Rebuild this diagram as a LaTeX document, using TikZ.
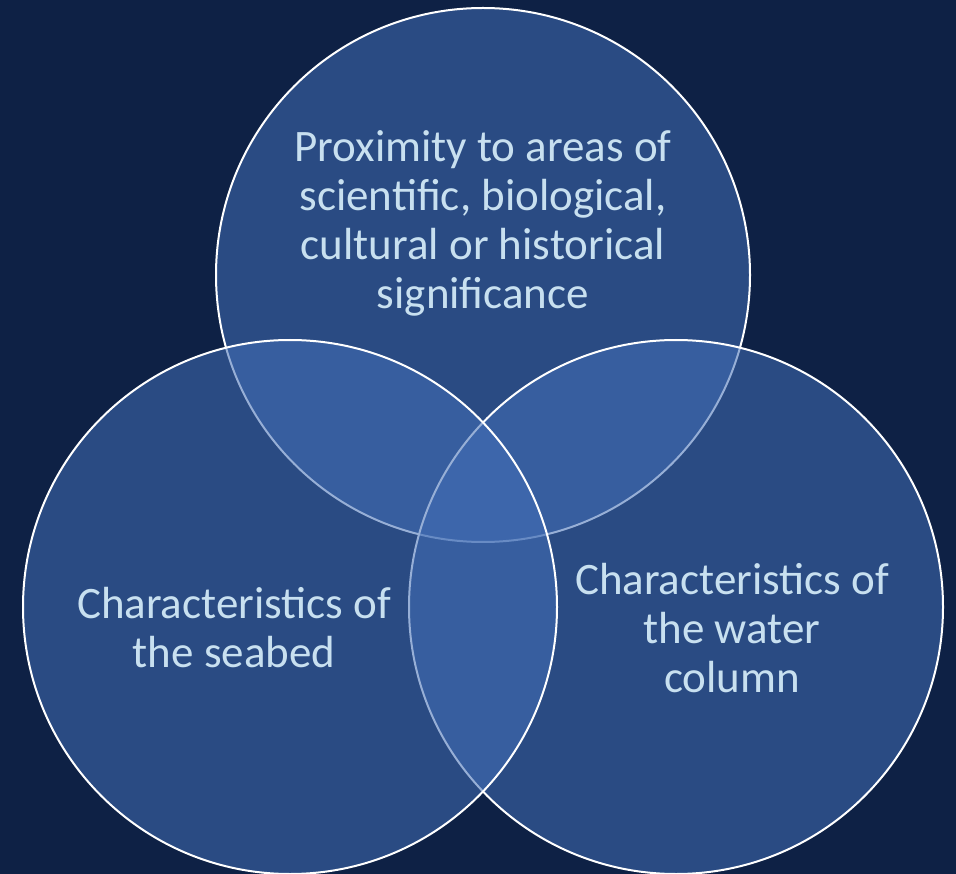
\documentclass[tikz,border=0pt]{standalone}
\usepackage{fontspec}
\setmainfont{Carlito}
\definecolor{bgnavy}{RGB}{14,33,69}
\definecolor{circfill}{RGB}{66,110,182}
\definecolor{txtblue}{RGB}{200,224,240}
\begin{document}
\begin{tikzpicture}[x=1pt,y=-1pt,
  venn/.style={fill=circfill,fill opacity=0.55,draw=white,draw opacity=1,line width=2pt},
  lbl/.style={text=txtblue,align=center,font=\fontsize{45}{49}\selectfont,inner sep=0pt}]
\useasboundingbox (0,0) rectangle (956,874);
\fill[bgnavy] (0,0) rectangle (956,874);
\coordinate (ctop) at (483,275);
\coordinate (cleft) at (290,607);
\coordinate (cright) at (676,607);
\path[venn] (ctop) circle (267pt);
\path[venn] (cright) circle (267pt);
\path[venn] (cleft) circle (267pt);
\node[lbl] (ttop) at (483,223) {Proximity to areas of\\scientific, biological,\\cultural or historical\\significance};
\node[lbl] (tleft) at (234,628) {Characteristics of\\the seabed};
\node[lbl] (tright) at (732,628) {Characteristics of\\the water\\column};
\end{tikzpicture}
\end{document}
